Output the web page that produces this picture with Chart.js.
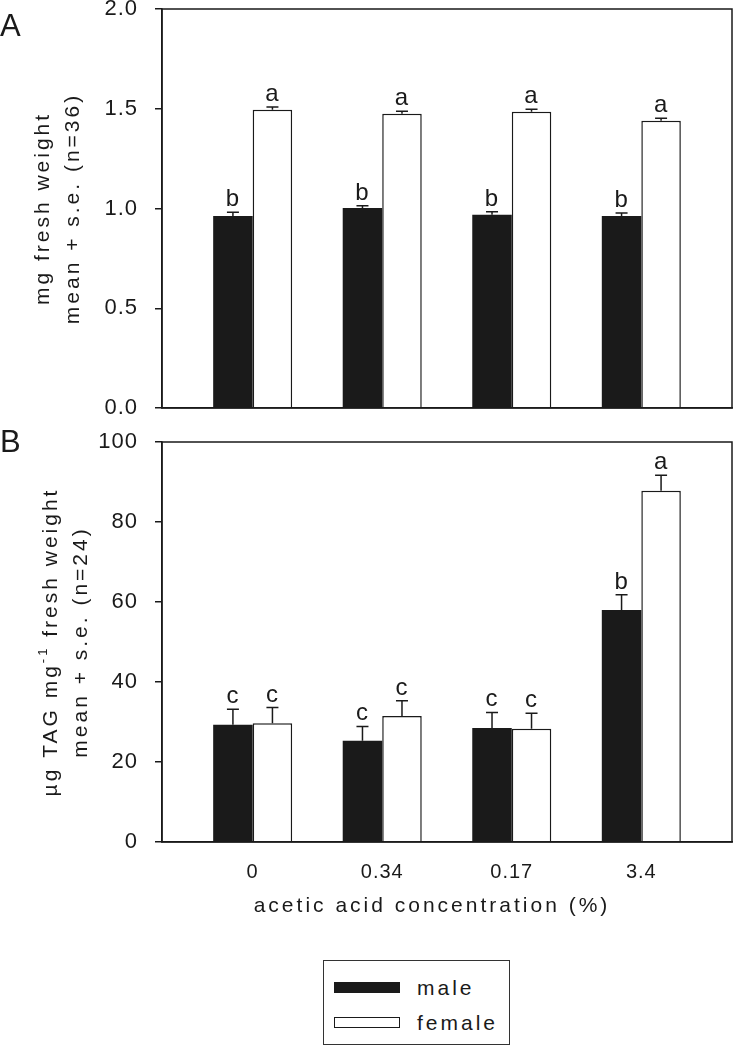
<!DOCTYPE html>
<html>
<head>
<meta charset="utf-8">
<script src="https://cdn.jsdelivr.net/npm/chart.js@4.4.0/dist/chart.umd.min.js"></script>
<style>
  body { margin: 0; background: #fff; width: 735px; height: 1050px; position: relative; overflow: hidden;
         font-family: "Liberation Sans", Arial, sans-serif; color: #1a1a1a; }
  .panel { position: absolute; left: 0; width: 735px; }
  #wrapA { top: 0; height: 420px; }
  #wrapB { top: 430px; height: 490px; }
  #legend { position: absolute; left: 323px; top: 960px; width: 187px; height: 85px;
            border: 1.5px solid #333; box-sizing: border-box; }
  .sw { position: absolute; left: 10px; width: 66px; height: 11px; box-sizing: border-box; }
  .lab { position: absolute; left: 93px; font-size: 21px; letter-spacing: 3px; line-height: 24px; }
</style>
</head>
<body>
<div class="panel" id="wrapA"><canvas id="chartA"></canvas></div>
<div class="panel" id="wrapB"><canvas id="chartB"></canvas></div>
<div id="legend">
  <div class="sw" style="top:21px;background:#1a1a1a;"></div>
  <div class="lab" style="top:15px;">male</div>
  <div class="sw" style="top:56px;background:#fff;border:1.5px solid #1a1a1a;"></div>
  <div class="lab" style="top:50px;">female</div>
</div>
<script>
// ---- datos ----
const categories = ["0", "0.34", "0.17", "3.4"];

// panel A: peso fresco (mg)
const weightMale = [0.962, 1.002, 0.969, 0.962];
const weightMaleErr = [0.019, 0.012, 0.015, 0.016];
const weightFemale = [1.495, 1.475, 1.485, 1.44];
const weightFemaleErr = [0.014, 0.012, 0.013, 0.013];
const weightMaleLetters = ["b", "b", "b", "b"];
const weightFemaleLetters = ["a", "a", "a", "a"];
const weightTicks = [0, 0.5, 1.0, 1.5, 2.0];

// panel B: TAG (ug / mg)
const tagMale = [29.3, 25.3, 28.5, 58.0];
const tagMaleErr = [3.9, 3.6, 3.9, 3.8];
const tagFemale = [29.7, 31.5, 28.3, 87.8];
const tagFemaleErr = [3.9, 3.8, 3.9, 3.9];
const tagMaleLetters = ["c", "c", "c", "b"];
const tagFemaleLetters = ["c", "c", "c", "a"];
const tagTicks = [0, 20, 40, 60, 80, 100];

const FAMILY = '"Liberation Sans", Arial, sans-serif';
const INK = "#1a1a1a";

function drawSegments(ctx, segs, cx, cy) {
  let total = 0;
  segs.forEach((s) => { ctx.font = s.font; s.w = ctx.measureText(s.text).width; total += s.w; });
  let x = cx - total / 2;
  segs.forEach((s) => { ctx.font = s.font; ctx.fillText(s.text, x, cy + (s.dy || 0)); x += s.w; });
}

// barras de error, letras, marco y titulos
const extrasPlugin = {
  id: "extras",
  beforeDraw(chart) {
    chart.ctx.letterSpacing = "1px";
  },
  afterDatasetsDraw(chart, args, opts) {
    const ctx = chart.ctx;
    const yScale = chart.scales.y;
    ctx.save();
    chart.data.datasets.forEach((ds, di) => {
      const meta = chart.getDatasetMeta(di);
      meta.data.forEach((bar, i) => {
        const v = ds.data[i].y;
        const top = yScale.getPixelForValue(v + opts.errors[di][i]);
        ctx.strokeStyle = INK;
        ctx.lineWidth = 1.5;
        ctx.beginPath();
        ctx.moveTo(bar.x, bar.y);
        ctx.lineTo(bar.x, top);
        ctx.moveTo(bar.x - 6, top);
        ctx.lineTo(bar.x + 6, top);
        ctx.stroke();
        ctx.fillStyle = INK;
        ctx.font = "24px " + FAMILY;
        ctx.textAlign = "center";
        ctx.textBaseline = "alphabetic";
        ctx.fillText(opts.letters[di][i], bar.x, top - 6);
      });
    });
    ctx.restore();
  },
  afterDraw(chart, args, opts) {
    const ctx = chart.ctx;
    const a = chart.chartArea;
    ctx.save();
    ctx.strokeStyle = INK;
    ctx.lineWidth = 1.5;
    ctx.strokeRect(a.left, a.top, a.right - a.left, a.bottom - a.top);

    ctx.fillStyle = INK;
    ctx.textBaseline = "alphabetic";
    ctx.textAlign = "left";
    ctx.letterSpacing = "0px";
    ctx.font = "31px " + FAMILY;
    ctx.fillText(opts.panel, 0, opts.panelY);

    ctx.letterSpacing = "3px";
    ctx.textBaseline = "middle";
    const cy = (a.top + a.bottom) / 2;
    opts.yTitle.forEach((line) => {
      ctx.save();
      ctx.translate(line.x, cy);
      ctx.rotate(-Math.PI / 2);
      drawSegments(ctx, line.segs, 0, 0);
      ctx.restore();
    });
    if (opts.xTitle) {
      ctx.textAlign = "left";
      drawSegments(ctx, [{ text: opts.xTitle, font: "21px " + FAMILY }], opts.xTitleX, opts.xTitleY);
    }
    ctx.restore();
  },
};

function makePanel(id, male, female, cfg) {
  return new Chart(document.getElementById(id), {
    type: "bar",
    data: {
      datasets: [
        {
          label: "male",
          data: male.map((v, i) => ({ x: i, y: v })),
          backgroundColor: INK,
          borderWidth: 0,
          categoryPercentage: 0.61,
          barPercentage: 1.0,
        },
        {
          label: "female",
          data: female.map((v, i) => ({ x: i, y: v })),
          backgroundColor: "#ffffff",
          borderColor: INK,
          borderWidth: 1.5,
          categoryPercentage: 0.61,
          barPercentage: 1.0,
        },
      ],
    },
    options: {
      responsive: true,
      maintainAspectRatio: false,
      animation: false,
      layout: { padding: cfg.padding },
      plugins: {
        legend: { display: false },
        tooltip: { enabled: false },
        extras: {
          errors: cfg.errors,
          letters: cfg.letters,
          panel: cfg.panel,
          panelY: cfg.panelY,
          yTitle: cfg.yTitle,
          xTitle: cfg.xTitle,
          xTitleX: cfg.xTitleX,
          xTitleY: cfg.xTitleY,
        },
      },
      scales: {
        x: {
          type: "linear",
          offset: false,
          min: -0.7,
          max: 3.7,
          afterBuildTicks: (s) => { s.ticks = categories.map((c, i) => ({ value: i })); },
          afterFit: (s) => { s.height = cfg.xHeight; s.paddingLeft = 0; s.paddingRight = 0; },
          grid: { display: false, drawTicks: false },
          border: { display: true, color: INK, width: 1.5 },
          ticks: {
            display: cfg.showX,
            padding: 18,
            color: INK,
            font: { family: FAMILY, size: 20 },
            callback: (v) => categories[v],
          },
        },
        y: {
          min: cfg.yTicks[0],
          max: cfg.yTicks[cfg.yTicks.length - 1],
          afterBuildTicks: (s) => { s.ticks = cfg.yTicks.map((v) => ({ value: v })); },
          afterFit: (s) => { s.width = 162; s.paddingTop = 0; s.paddingBottom = 0; },
          grid: { drawOnChartArea: false, drawTicks: true, tickLength: 7, color: INK, lineWidth: 1.5 },
          border: { display: true, color: INK, width: 1.5 },
          ticks: {
            padding: 17,
            color: INK,
            font: { family: FAMILY, size: 22 },
            callback: cfg.yFormat,
          },
        },
      },
    },
    plugins: [extrasPlugin],
  });
}

const F21 = "21px " + FAMILY;

makePanel("chartA", weightMale, weightFemale, {
  padding: { top: 9, right: 3, bottom: 12, left: 0 },
  xHeight: 0,
  showX: false,
  yTicks: weightTicks,
  yFormat: (v) => v.toFixed(1),
  errors: [weightMaleErr, weightFemaleErr],
  letters: [weightMaleLetters, weightFemaleLetters],
  panel: "A",
  panelY: 36,
  yTitle: [
    { x: 43, segs: [{ text: "mg fresh weight", font: F21 }] },
    { x: 73, segs: [{ text: "mean + s.e. (n=36)", font: F21 }] },
  ],
});

makePanel("chartB", tagMale, tagFemale, {
  padding: { top: 12, right: 3, bottom: 0, left: 0 },
  xHeight: 78,
  showX: true,
  yTicks: tagTicks,
  yFormat: (v) => String(v),
  errors: [tagMaleErr, tagFemaleErr],
  letters: [tagMaleLetters, tagFemaleLetters],
  panel: "B",
  panelY: 22,
  yTitle: [
    {
      x: 51,
      segs: [
        { text: "µg TAG mg", font: F21 },
        { text: "-1", font: "13px " + FAMILY, dy: -8 },
        { text: " fresh weight", font: F21 },
      ],
    },
    { x: 81, segs: [{ text: "mean + s.e. (n=24)", font: F21 }] },
  ],
  xTitle: "acetic acid concentration (%)",
  xTitleX: 432,
  xTitleY: 476,
});
</script>
</body>
</html>
